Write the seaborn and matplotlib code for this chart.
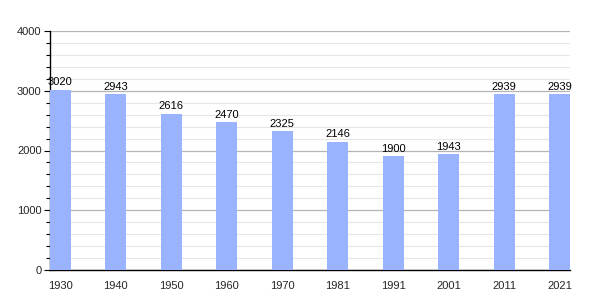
import matplotlib
matplotlib.use("Agg")
import matplotlib.pyplot as plt
import seaborn as sns
import pandas as pd
from matplotlib.ticker import MultipleLocator

years = ["1930", "1940", "1950", "1960", "1970", "1981", "1991", "2001", "2011", "2021"]
population = [3020, 2943, 2616, 2470, 2325, 2146, 1900, 1943, 2939, 2939]

sns.set_theme(style="white")
plt.rcParams['font.family'] = ['Liberation Sans', 'DejaVu Sans']

df = pd.DataFrame({"year": years, "pop": population})

fig = plt.figure(figsize=(6, 3), dpi=100)
ax = fig.add_axes([50/600, 30/300, 520/600, 239/300])

sns.barplot(data=df, x="year", y="pop", color="#99b3ff", saturation=1, width=0.375,
            linewidth=0, edgecolor="none", ax=ax, zorder=3)

ax.set_ylim(0, 4000)
ax.set_xlim(-0.1875, 9.1875)
ax.yaxis.set_major_locator(MultipleLocator(1000))
ax.yaxis.set_minor_locator(MultipleLocator(200))
ax.grid(which="major", axis="y", color="#b4b4b4", linewidth=0.9, zorder=0)
ax.grid(which="minor", axis="y", color="#e6e6e6", linewidth=0.8, zorder=0)
ax.set_axisbelow(True)

for s in ["top", "right"]:
    ax.spines[s].set_visible(False)
for s in ["left", "bottom"]:
    ax.spines[s].set_color("black")
    ax.spines[s].set_linewidth(1)

ax.tick_params(axis="y", which="major", left=True, length=4, width=0.8, color="black", labelsize=8, pad=2)
ax.tick_params(axis="y", which="minor", left=True, length=3, width=0.8, color="black")
ax.tick_params(axis="x", bottom=False, labelsize=8, pad=2)
ax.set_xlabel("")
ax.set_ylabel("")

for i, v in enumerate(population):
    ax.text(i, v + 40, str(v), ha="center", va="bottom", fontsize=8, color="black")

fig.savefig("out.png", dpi=100)
